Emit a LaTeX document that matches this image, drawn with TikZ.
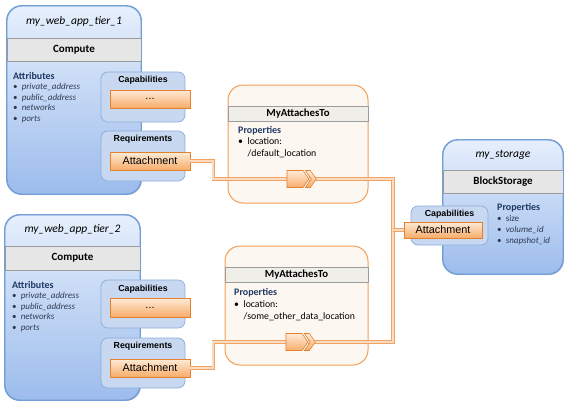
\documentclass[tikz,border=0pt]{standalone}
\usepackage{fontspec}
\setmainfont{Carlito}
\newfontfamily\arialfont{Liberation Sans}
\usetikzlibrary{positioning,calc,shapes.symbols,shadows}

\definecolor{boxedge}{HTML}{739ED6}
\definecolor{boxtop}{HTML}{E6EFFC}
\definecolor{boxbottom}{HTML}{9CBCEC}
\definecolor{bandfill}{HTML}{E6E6E6}
\definecolor{bandedge}{HTML}{9C9C9C}
\definecolor{subfill}{HTML}{C7D8F0}
\definecolor{subedge}{HTML}{8CADDC}
\definecolor{plugtop}{HTML}{FDEBD8}
\definecolor{plugbottom}{HTML}{F8AC69}
\definecolor{plugedge}{HTML}{E2812F}
\definecolor{relfill}{HTML}{FDF7F1}
\definecolor{reledge}{HTML}{F29F55}
\definecolor{relbandfill}{HTML}{F0EEE8}
\definecolor{wireedge}{HTML}{EFA466}
\definecolor{wirefill}{HTML}{FBDCC0}
\definecolor{headtext}{HTML}{1F3864}
\definecolor{itemtext}{HTML}{2F3A52}

\pgfdeclarelayer{front}
\pgfsetlayers{main,front}

\tikzset{
  template/.style={draw=boxedge, line width=0.9pt, rounded corners=15pt,
    top color=boxtop, bottom color=boxbottom, inner sep=0pt,
    drop shadow={shadow xshift=1pt, shadow yshift=-1.2pt, opacity=0.25}},
  outline/.style={draw=boxedge, line width=0.9pt, rounded corners=15pt},
  nametext/.style={font=\fontsize{11.5}{13}\selectfont\itshape, inner sep=0pt},
  typeband/.style={draw=bandedge, fill=bandfill, line width=0.6pt, inner sep=0pt,
    font=\fontsize{11}{12}\selectfont\bfseries},
  listtext/.style={align=left, inner sep=0pt, text=itemtext,
    font=\fontsize{9}{10.5}\selectfont},
  portgroup/.style={draw=subedge, fill=subfill, line width=0.7pt,
    rounded corners=7pt, inner sep=0pt},
  grouplabel/.style={font=\arialfont\fontsize{8.8}{10}\selectfont\bfseries, inner sep=0pt},
  plug/.style={draw=plugedge, line width=0.7pt, top color=plugtop,
    bottom color=plugbottom, inner sep=0pt,
    font=\arialfont\fontsize{10.8}{12}\selectfont},
  reltemplate/.style={draw=reledge, fill=relfill, line width=1pt,
    rounded corners=15pt, inner sep=0pt},
  relband/.style={draw=bandedge, fill=relbandfill, line width=0.6pt, inner sep=0pt,
    font=\fontsize{10.8}{12}\selectfont\bfseries},
  wire/.style={draw=wireedge, line width=0.7pt, double=wirefill, double distance=1.8pt},
  relhead/.style={signal, signal to=east, signal pointer angle=110, draw=plugedge,
    line width=0.6pt, top color=plugtop, bottom color=plugbottom,
    minimum width=22pt, minimum height=17pt, inner sep=0pt},
  chevron/.style={draw=plugedge, line width=0.6pt, top color=plugtop,
    bottom color=plugbottom}
}

\newcommand{\headline}[1]{{\fontsize{10}{10.5}\selectfont\bfseries\color{headtext}#1}}

\begin{document}
\begin{tikzpicture}[x=1pt,y=-1pt]
\useasboundingbox (0,0) rectangle (571,407);

%tier 1
\node[template, minimum width=134pt, minimum height=188pt] (tier1) at (74,100) {};
\node[typeband, minimum width=134pt, minimum height=23pt] (tier1type) at (74,49.5) {Compute};
\draw[outline] (tier1.north west) rectangle (tier1.south east);
\node[nametext] (tier1name) at (74,21) {my\_web\_app\_tier\_1};
\node[listtext, anchor=north west] (tier1attr) at (13,72) {\headline{Attributes}\\
  \textbullet\ \ \textit{private\_address}\\ \textbullet\ \ \textit{public\_address}\\
  \textbullet\ \ \textit{networks}\\ \textbullet\ \ \textit{ports}};
\node[portgroup, minimum width=84pt, minimum height=50pt] (tier1cap) at (143,97) {};
\node[grouplabel] (tier1caplabel) at (143,80) {Capabilities};
\node[plug, minimum width=80pt, minimum height=18pt] (tier1dots) at (150,99) {...};
\node[portgroup, minimum width=84pt, minimum height=50pt] (tier1req) at (143,156) {};
\node[grouplabel] (tier1reqlabel) at (143,139) {Requirements};
\node[plug, minimum width=80pt, minimum height=18pt] (tier1att) at (150,161) {Attachment};

%tier 2
\node[template, minimum width=135pt, minimum height=185pt] (tier2) at (72.5,307.5) {};
\node[typeband, minimum width=135pt, minimum height=24pt] (tier2type) at (72.5,258) {Compute};
\draw[outline] (tier2.north west) rectangle (tier2.south east);
\node[nametext] (tier2name) at (72.5,229) {my\_web\_app\_tier\_2};
\node[listtext, anchor=north west] (tier2attr) at (12,281) {\headline{Attributes}\\
  \textbullet\ \ \textit{private\_address}\\ \textbullet\ \ \textit{public\_address}\\
  \textbullet\ \ \textit{networks}\\ \textbullet\ \ \textit{ports}};
\node[portgroup, minimum width=84pt, minimum height=48pt] (tier2cap) at (143,304) {};
\node[grouplabel] (tier2caplabel) at (143,289) {Capabilities};
\node[plug, minimum width=80pt, minimum height=19pt] (tier2dots) at (150,307.5) {...};
\node[portgroup, minimum width=84pt, minimum height=50pt] (tier2req) at (143,363) {};
\node[grouplabel] (tier2reqlabel) at (143,346) {Requirements};
\node[plug, minimum width=80pt, minimum height=18pt] (tier2att) at (150,368) {Attachment};

%relationships
\node[reltemplate, minimum width=140pt, minimum height=118pt] (rel1) at (298,144) {};
\node[relband, minimum width=140pt, minimum height=15pt] (rel1type) at (298,113.5) {MyAttachesTo};
\node[listtext, anchor=north west, text=black, font=\fontsize{9.8}{11.5}\selectfont] (rel1props) at (238,126)
  {\headline{Properties}\\ \textbullet\ \ location:\\ \hspace*{9.5pt}/default\_location};
\node[reltemplate, minimum width=143pt, minimum height=119pt] (rel2) at (296.5,305.5) {};
\node[relband, minimum width=143pt, minimum height=15pt] (rel2type) at (296.5,274.5) {MyAttachesTo};
\node[listtext, anchor=north west, text=black, font=\fontsize{9.8}{12}\selectfont] (rel2props) at (234,288)
  {\headline{Properties}\\ \textbullet\ \ location:\\ \hspace*{9.5pt}/some\_other\_data\_location};

%storage
\node[template, minimum width=120pt, minimum height=134pt] (storage) at (503,207) {};
\node[typeband, minimum width=120pt, minimum height=23pt] (storagetype) at (503,181.5) {BlockStorage};
\draw[outline] (storage.north west) rectangle (storage.south east);
\node[nametext] (storagename) at (503,155) {my\_storage};
\node[listtext, anchor=north west, font=\fontsize{9}{11}\selectfont] (storageprops) at (497,203) {\headline{Properties}\\
  \textbullet\ \ size\\ \textbullet\ \ \textit{volume\_id}\\ \textbullet\ \ \textit{snapshot\_id}};
\node[portgroup, minimum width=77pt, minimum height=39pt] (storagecap) at (449.5,225.5) {};
\node[grouplabel] (storagecaplabel) at (449.5,214) {Capabilities};
\node[plug, minimum width=78pt, minimum height=16pt] (storageatt) at (443,230) {Attachment};

%arrows on top
\begin{pgfonlayer}{front}
\node[relhead] (rel1arrow) at (295,179) {};
\node[relhead] (rel2arrow) at (294,342) {};
\draw[chevron] ($(rel1arrow.east)+(-4,-8.5)$) -- ++(5,0) -- ++(6,8.5) -- ++(-6,8.5) -- ++(-5,0) -- ++(6,-8.5) -- cycle;
\draw[chevron] ($(rel2arrow.east)+(-4,-8.5)$) -- ++(5,0) -- ++(6,8.5) -- ++(-6,8.5) -- ++(-5,0) -- ++(6,-8.5) -- cycle;
\end{pgfonlayer}

%wires
\coordinate (bus) at (393,230);
\draw[wire] (tier1att.east) -- ++(23,0) |- (rel1arrow.west);
\draw[wire] (tier2att.east) -- ++(23,0) |- (rel2arrow.west);
\draw[wire] (rel1arrow.east) -| (bus);
\draw[wire] (rel2arrow.east) -| (bus);
\draw[wire] (bus) -- (storageatt.west);
\end{tikzpicture}
\end{document}
